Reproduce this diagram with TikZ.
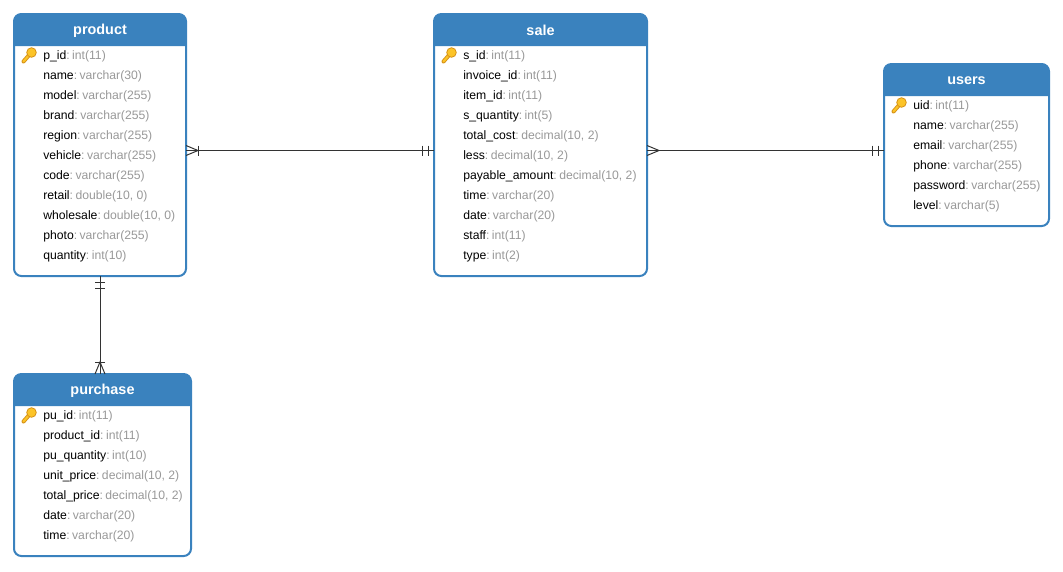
\documentclass[tikz,border=0pt]{standalone}
\usepackage{fontspec}
\setmainfont{Liberation Sans}
\usetikzlibrary{positioning,calc}
\definecolor{tblblue}{RGB}{58,130,190}
\definecolor{keygold}{RGB}{252,196,40}
\definecolor{keyedge}{RGB}{214,146,24}
\definecolor{typegray}{RGB}{153,153,153}
\definecolor{linkgray}{RGB}{51,51,51}
\newcommand{\fname}[2]{#1\textcolor{typegray}{:\hspace{0.2em}#2}}

\begin{document}
\begin{tikzpicture}[
  x=0.75pt, y=-0.75pt,
  font=\fontsize{9.15pt}{11pt}\selectfont,
  tbl/.style={rounded corners=5.5pt, draw=tblblue, line width=1.5pt, fill=white, outer sep=0pt, inner sep=0pt},
  hdr/.style={fill=tblblue},
  title/.style={font=\fontsize{10.8pt}{12pt}\selectfont\bfseries, text=white, inner sep=0pt, yshift=-0.75pt},
  fld/.style={anchor=west, inner sep=0pt, text height=6.6pt, text depth=1.9pt, yshift=-0.75pt},
  rel/.style={draw=linkgray, line width=0.75pt},
  keyicon/.pic={
    \draw[keyedge, line width=3pt, line cap=round] (-5.5,6.5) -- (1,-1);
    \draw[keygold, line width=1.6pt, line cap=round] (-5.5,6.5) -- (1,-1);
    \fill[keygold, draw=keyedge, line width=0.6pt] (2.5,-2.5) circle (4.8);
  },
  crowfoot/.pic={
    \draw[rel] (0,-5) -- (12,0) -- (0,5);
  },
  onebar/.pic={
    \draw[rel] (12,-5) -- (12,5);
  },
  twobars/.pic={
    \draw[rel] (6,-5) -- (6,5);
    \draw[rel] (12,-5) -- (12,5);
  }
]
\useasboundingbox (0,0) rectangle (1063,571);

%% ---------- Table: product ----------
\node[tbl, minimum width=172*0.75pt, minimum height=262*0.75pt] (product) at (100,145) {};
\fill[hdr] (14,46) [rounded corners=5.5pt] -- (14,14) -- (186,14) [sharp corners] -- (186,46) -- cycle;
\node[title] (producttitle) at (100,29.5) {product};
\pic (productkey) at (29,55) {keyicon};
\node[fld] (pid)      at (43,55)  {\fname{p\_id}{int(11)}};
\node[fld] (pname)    at (43,75)  {\fname{name}{varchar(30)}};
\node[fld] (pmodel)   at (43,95)  {\fname{model}{varchar(255)}};
\node[fld] (pbrand)   at (43,115) {\fname{brand}{varchar(255)}};
\node[fld] (pregion)  at (43,135) {\fname{region}{varchar(255)}};
\node[fld] (pvehicle) at (43,155) {\fname{vehicle}{varchar(255)}};
\node[fld] (pcode)    at (43,175) {\fname{code}{varchar(255)}};
\node[fld] (pretail)  at (43,195) {\fname{retail}{double(10, 0)}};
\node[fld] (pwhole)   at (43,215) {\fname{wholesale}{double(10, 0)}};
\node[fld] (pphoto)   at (43,235) {\fname{photo}{varchar(255)}};
\node[fld] (pqty)     at (43,255) {\fname{quantity}{int(10)}};

%% ---------- Table: sale ----------
\node[tbl, minimum width=213*0.75pt, minimum height=262*0.75pt] (sale) at (540.5,145) {};
\fill[hdr] (434,46) [rounded corners=5.5pt] -- (434,14) -- (647,14) [sharp corners] -- (647,46) -- cycle;
\node[title] (saletitle) at (540.5,29.5) {sale};
\pic (salekey) at (449,55) {keyicon};
\node[fld] (sid)      at (463,55)  {\fname{s\_id}{int(11)}};
\node[fld] (sinv)     at (463,75)  {\fname{invoice\_id}{int(11)}};
\node[fld] (sitem)    at (463,95)  {\fname{item\_id}{int(11)}};
\node[fld] (sqty)     at (463,115) {\fname{s\_quantity}{int(5)}};
\node[fld] (scost)    at (463,135) {\fname{total\_cost}{decimal(10, 2)}};
\node[fld] (sless)    at (463,155) {\fname{less}{decimal(10, 2)}};
\node[fld] (spay)     at (463,175) {\fname{payable\_amount}{decimal(10, 2)}};
\node[fld] (stime)    at (463,195) {\fname{time}{varchar(20)}};
\node[fld] (sdate)    at (463,215) {\fname{date}{varchar(20)}};
\node[fld] (sstaff)   at (463,235) {\fname{staff}{int(11)}};
\node[fld] (stype)    at (463,255) {\fname{type}{int(2)}};

%% ---------- Table: users ----------
\node[tbl, minimum width=165*0.75pt, minimum height=162*0.75pt] (users) at (966.5,145) {};
\fill[hdr] (884,96) [rounded corners=5.5pt] -- (884,64) -- (1049,64) [sharp corners] -- (1049,96) -- cycle;
\node[title] (userstitle) at (966.5,79.5) {users};
\pic (userskey) at (899,105) {keyicon};
\node[fld] (uid)      at (913,105) {\fname{uid}{int(11)}};
\node[fld] (uname)    at (913,125) {\fname{name}{varchar(255)}};
\node[fld] (uemail)   at (913,145) {\fname{email}{varchar(255)}};
\node[fld] (uphone)   at (913,165) {\fname{phone}{varchar(255)}};
\node[fld] (upass)    at (913,185) {\fname{password}{varchar(255)}};
\node[fld] (ulevel)   at (913,205) {\fname{level}{varchar(5)}};

%% ---------- Table: purchase ----------
\node[tbl, minimum width=177*0.75pt, minimum height=182*0.75pt] (purchase) at (102.5,465) {};
\fill[hdr] (14,406) [rounded corners=5.5pt] -- (14,374) -- (191,374) [sharp corners] -- (191,406) -- cycle;
\node[title] (purchasetitle) at (102.5,389.5) {purchase};
\pic (purchasekey) at (29,415) {keyicon};
\node[fld] (puid)     at (43,415) {\fname{pu\_id}{int(11)}};
\node[fld] (puprod)   at (43,435) {\fname{product\_id}{int(11)}};
\node[fld] (puqty)    at (43,455) {\fname{pu\_quantity}{int(10)}};
\node[fld] (puunit)   at (43,475) {\fname{unit\_price}{decimal(10, 2)}};
\node[fld] (putotal)  at (43,495) {\fname{total\_price}{decimal(10, 2)}};
\node[fld] (pudate)   at (43,515) {\fname{date}{varchar(20)}};
\node[fld] (putime)   at (43,535) {\fname{time}{varchar(20)}};

%% ---------- Relations ----------
\coordinate (relrow) at (0,150.5);
\draw[rel] (product.east |- relrow) -- (sale.west |- relrow)
  pic[pos=0, sloped, allow upside down] {crowfoot}
  pic[pos=0, sloped, allow upside down] {onebar}
  pic[pos=1, sloped, allow upside down, xscale=-1] {twobars};
\draw[rel] (sale.east |- relrow) -- (users.west |- relrow)
  pic[pos=0, sloped, allow upside down] {crowfoot}
  pic[pos=1, sloped, allow upside down, xscale=-1] {twobars};
\draw[rel] (product.south) -- (product.south |- purchase.north)
  pic[pos=0, sloped, allow upside down] {twobars}
  pic[pos=1, sloped, allow upside down, xscale=-1] {crowfoot}
  pic[pos=1, sloped, allow upside down, xscale=-1] {onebar};

\end{tikzpicture}
\end{document}
